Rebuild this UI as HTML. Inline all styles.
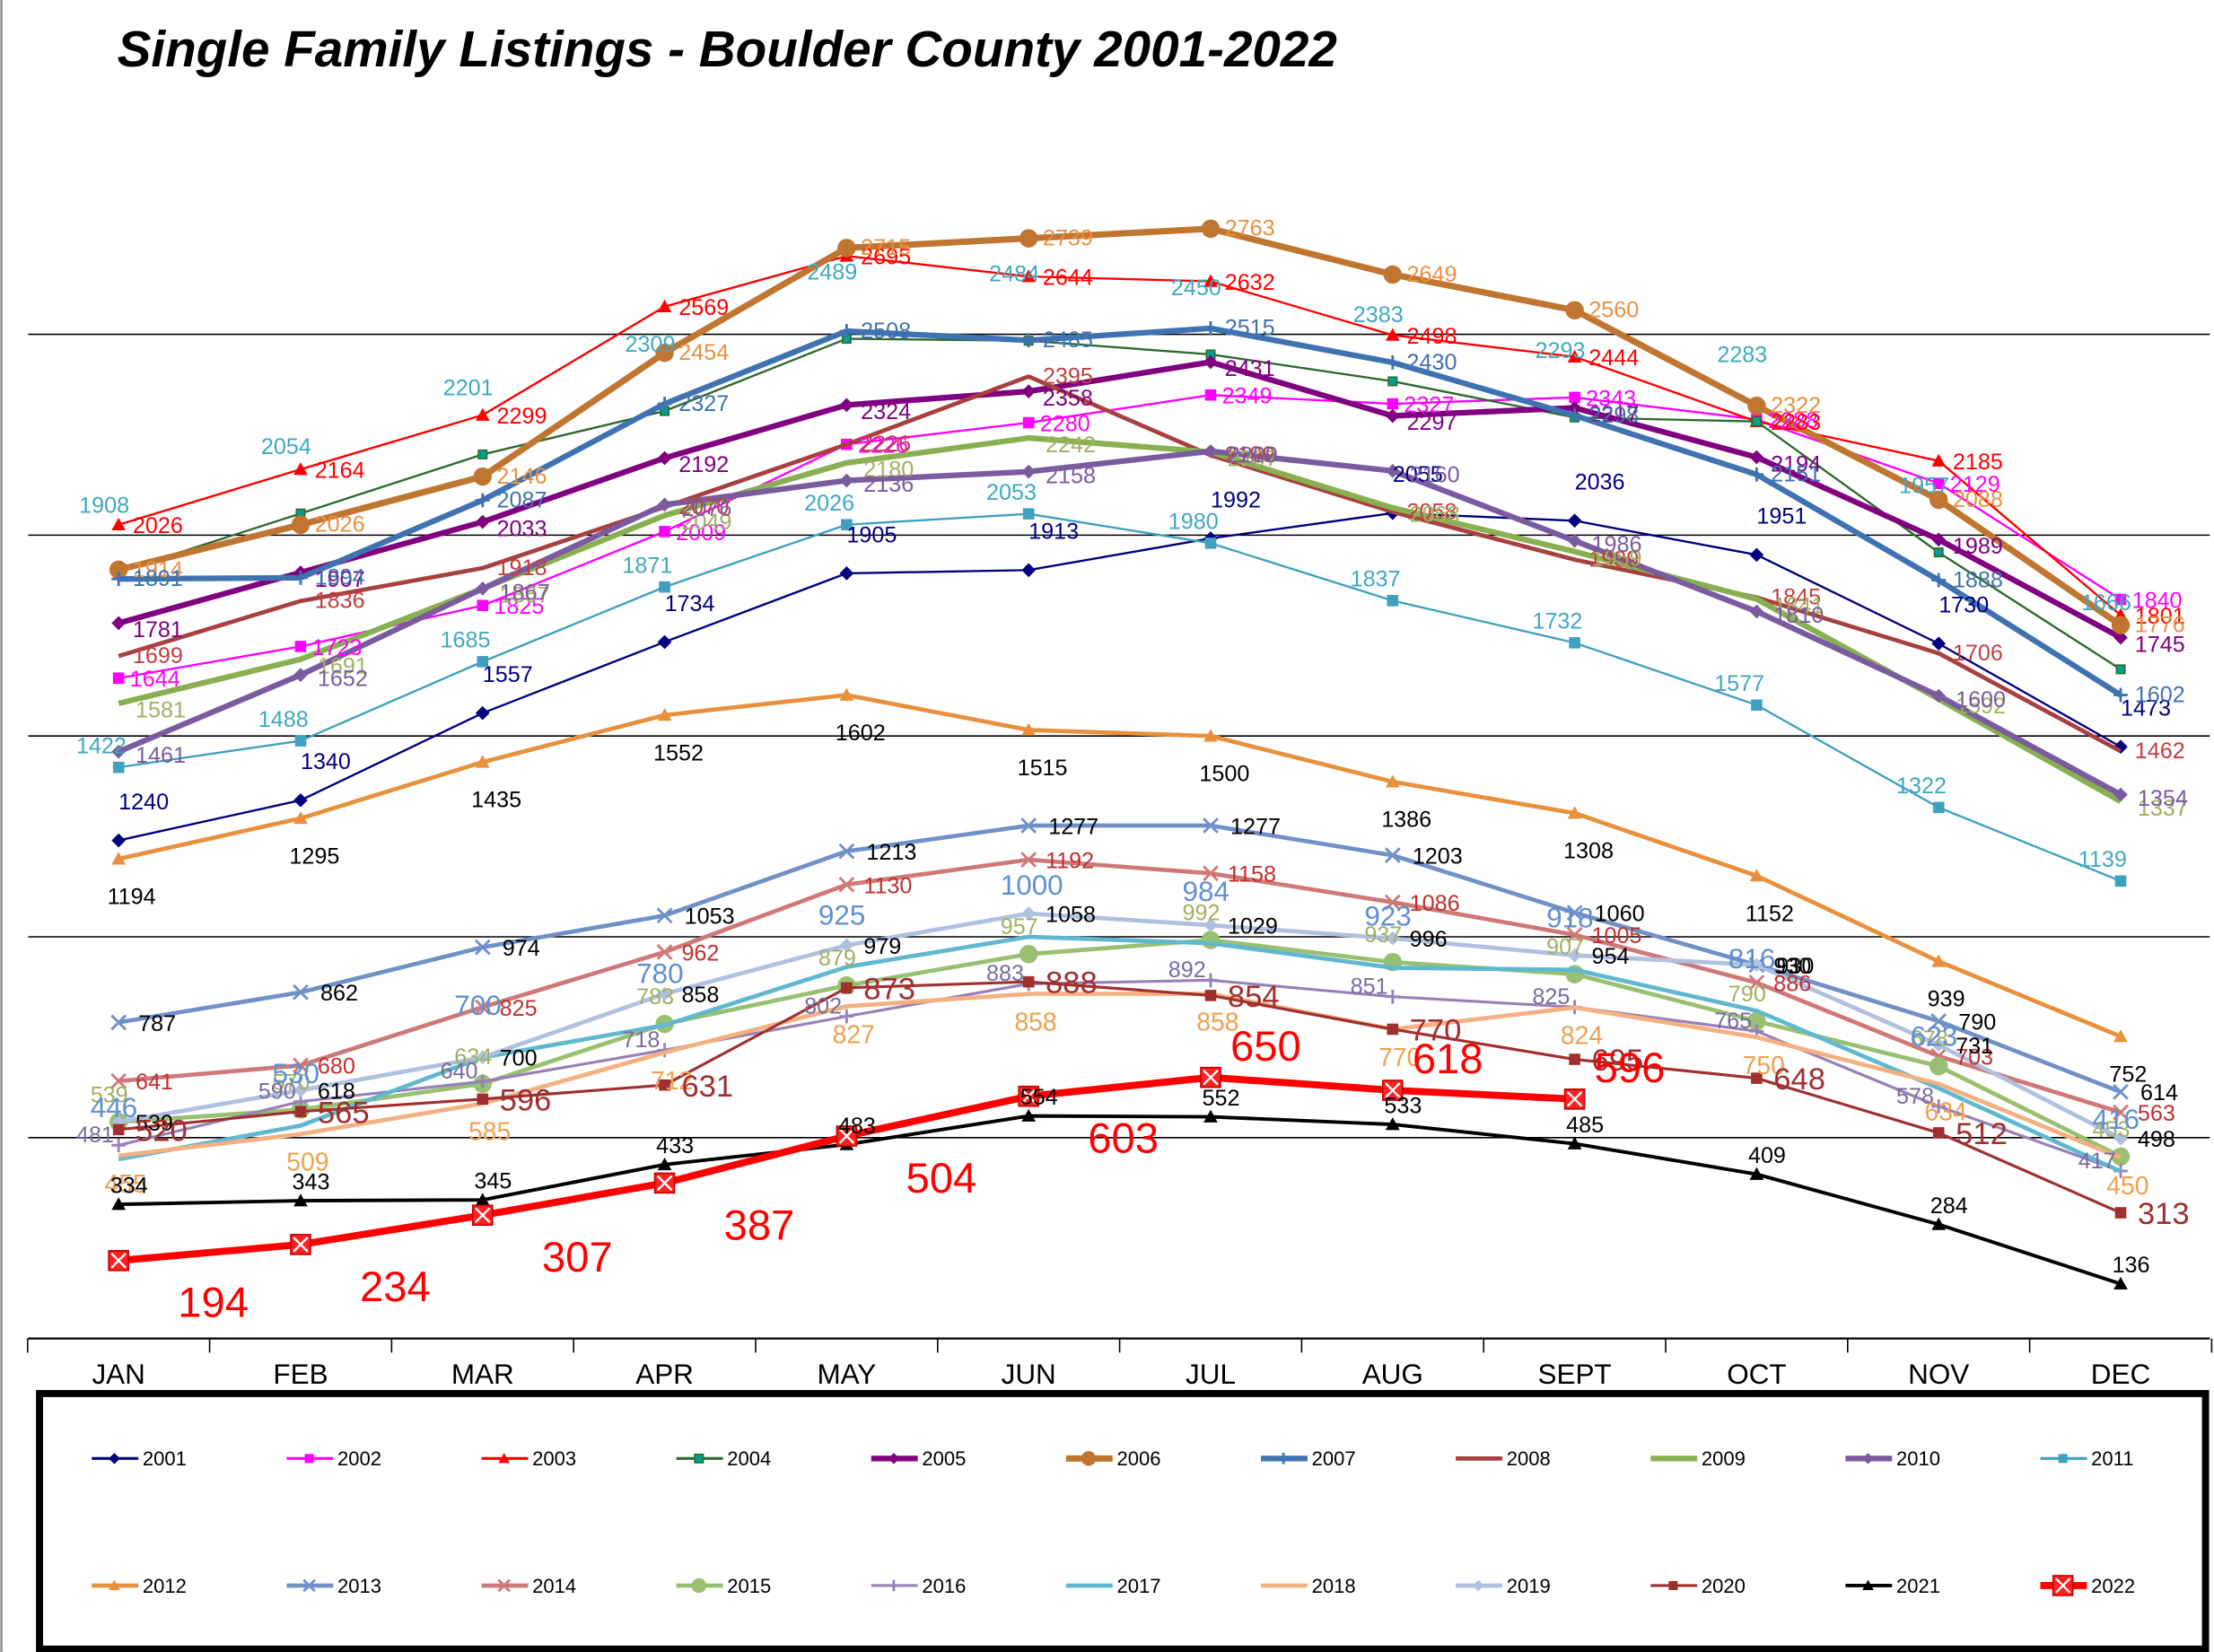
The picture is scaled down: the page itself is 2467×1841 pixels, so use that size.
<!DOCTYPE html>
<html><head><meta charset="utf-8">
<style>
html,body{margin:0;padding:0;background:#fff;}
svg{display:block;}
text{font-family:"Liberation Sans",Arial,sans-serif;}
</style></head>
<body>
<svg id="chart" width="2467" height="1841" viewBox="0 0 1568 1170" xmlns="http://www.w3.org/2000/svg">
<rect x="0" y="0" width="1568" height="1170" fill="#fff"/>
<line x1="1" y1="0" x2="1" y2="1170" stroke="#888" stroke-width="1.5"/>
<text x="83" y="47" font-size="36" font-weight="bold" font-style="italic" fill="#000">Single Family Listings - Boulder County 2001-2022</text>
<g id="grid"></g>
<g id="series"></g>
<g id="labels"></g>
<g id="axis"></g>
<rect x="28" y="987" width="1534" height="181" fill="none" stroke="#000" stroke-width="5"/>
<g id="legend"></g>
</svg>
<script>
const months = ["JAN","FEB","MAR","APR","MAY","JUN","JUL","AUG","SEPT","OCT","NOV","DEC"];
const years = ["2001","2002","2003","2004","2005","2006","2007","2008","2009","2010","2011","2012","2013","2014","2015","2016","2017","2018","2019","2020","2021","2022"];
const v2001 = [1240,1340,1557,1734,1905,1913,1992,2055,2036,1951,1730,1473];
const v2002 = [1644,1723,1825,2009,2226,2280,2349,2327,2343,2288,2129,1840];
const v2003 = [2026,2164,2299,2569,2695,2644,2632,2498,2444,2283,2185,1801];
const v2004 = [1908,2054,2201,2309,2489,2484,2450,2383,2293,2283,1957,1666];
const v2005 = [1781,1907,2033,2192,2324,2358,2431,2297,2317,2194,1989,1745];
const v2006 = [1914,2026,2146,2454,2715,2739,2763,2649,2560,2322,2088,1776];
const v2007 = [1891,1894,2087,2327,2508,2485,2515,2430,2298,2151,1888,1602];
const v2008 = [1699,1836,1918,2070,2226,2395,2199,2058,1939,1845,1706,1462];
const v2009 = [1581,1691,1867,2049,2180,2242,2207,2068,1959,1841,1592,1337];
const v2010 = [1461,1652,1867,2076,2136,2158,2209,2160,1986,1810,1600,1354];
const v2011 = [1422,1488,1685,1871,2026,2053,1980,1837,1732,1577,1322,1139];
const v2012 = [1194,1295,1435,1552,1602,1515,1500,1386,1308,1152,939,752];
const v2013 = [787,862,974,1053,1213,1277,1277,1203,1060,930,790,614];
const v2014 = [641,680,825,962,1130,1192,1158,1086,1005,886,703,563];
const v2015 = [539,570,634,783,879,957,992,937,907,790,678,453];
const v2016 = [481,590,640,718,802,883,892,851,825,765,578,417];
const v2017 = [446,530,700,780,925,1000,984,923,918,816,623,416];
const v2018 = [455,509,585,712,827,858,858,770,824,750,634,450];
const v2019 = [539,618,700,858,979,1058,1029,996,954,930,731,498];
const v2020 = [520,565,596,631,873,888,854,770,695,648,512,313];
const v2021 = [334,343,345,433,483,554,552,533,485,409,284,136];
const v2022 = [194,234,307,387,504,603,650,618,596];
const allValues = [v2001,v2002,v2003,v2004,v2005,v2006,v2007,v2008,v2009,v2010,v2011,v2012,v2013,v2014,v2015,v2016,v2017,v2018,v2019,v2020,v2021,v2022];
const gridTicks = [500,1000,1500,2000,2500];

const styles = [
 {c:"#000080",w:1.5,m:"diamond",lc:"#000080",fs:16,dx:0,dy:-22},
 {c:"#ff00ff",w:1.5,m:"square",lc:"#ff00ff",fs:16,dx:8,dy:6},
 {c:"#ff0000",w:1.5,m:"triangle",lc:"#ff0000",fs:16,dx:10,dy:6},
 {c:"#2f6a2f",w:1.5,m:"tsquare",lc:"#40a8c0",fs:16,dx:-28,dy:-42},
 {c:"#800080",w:4,m:"diamond",lc:"#800080",fs:16,dx:10,dy:10},
 {c:"#c07530",w:4.5,m:"circle",lc:"#e89040",fs:16,dx:10,dy:5},
 {c:"#3f72b0",w:4,m:"plus",lc:"#3f72b0",fs:16,dx:10,dy:5},
 {c:"#a84040",w:3,m:"none",lc:"#c04040",fs:16,dx:10,dy:5},
 {c:"#88b050",w:4,m:"none",lc:"#a0b060",fs:16,dx:12,dy:10},
 {c:"#7a5ba0",w:4,m:"diamond",lc:"#7a5ba0",fs:16,dx:12,dy:8},
 {c:"#40a0c0",w:1.5,m:"square",lc:"#40a8c0",fs:16,dx:-30,dy:-10},
 {c:"#e8903c",w:3,m:"triangle",lc:"#000",fs:16,dx:-8,dy:32},
 {c:"#7090c8",w:3,m:"x",lc:"#000",fs:16,dx:14,dy:6},
 {c:"#d07878",w:3,m:"x",lc:"#c03030",fs:16,dx:12,dy:6},
 {c:"#98c070",w:3,m:"circle",lc:"#a0b060",fs:16,dx:-20,dy:-14},
 {c:"#9880b8",w:2,m:"plus",lc:"#7a6aa0",fs:16,dx:-30,dy:-2},
 {c:"#60b8d0",w:3,m:"none",lc:"#6090d0",fs:20,dx:-20,dy:-30},
 {c:"#f4b080",w:3,m:"none",lc:"#f0a050",fs:18,dx:-10,dy:26},
 {c:"#b0c0e0",w:3,m:"diamond",lc:"#000",fs:16,dx:12,dy:6},
 {c:"#a03030",w:2,m:"square",lc:"#a03030",fs:22,dx:12,dy:8},
 {c:"#000000",w:2.5,m:"triangle",lc:"#000",fs:16,dx:-6,dy:-8},
 {c:"#ff0000",w:5,m:"boxx",lc:"#ff0000",fs:30,dx:42,dy:40}
];

const X0=84, XS=128.9, Y0=948, YK=0.2845;
function xs(i){return X0+i*XS;}
function ys(v){return Y0-v*YK;}
const NS="http://www.w3.org/2000/svg";
function mk(tag,attrs,parent){const e=document.createElementNS(NS,tag);for(const k in attrs)e.setAttribute(k,attrs[k]);parent.appendChild(e);return e;}

const grid=document.getElementById("grid");
gridTicks.forEach(t=>{
 const l=mk("line",{x1:20,x2:1565,y1:ys(t),y2:ys(t),stroke:"#000","stroke-width":1},grid);
 
 
});

const axis=document.getElementById("axis");
const al=mk("line",{x1:20,x2:1565,y1:948,y2:948,stroke:"#000","stroke-width":1.5},axis);


for(let i=0;i<=12;i++){
 const tx=X0-XS/2+i*XS;
 const t=mk("line",{x1:tx,x2:tx,y1:948,y2:958,stroke:"#000","stroke-width":1},axis);
 
 
}
months.forEach((m,i)=>{
 const t=mk("text",{x:xs(i),y:980,"font-size":20,"text-anchor":"middle",fill:"#000"},axis);
 t.textContent=m;
 
 
});

function marker(g,type,x,y,c,s){
 let e;
 if(type==="diamond") e=mk("path",{d:`M${x} ${y-s}L${x+s} ${y}L${x} ${y+s}L${x-s} ${y}Z`,fill:c},g);
 else if(type==="square") e=mk("rect",{x:x-s*0.8,y:y-s*0.8,width:s*1.6,height:s*1.6,fill:c},g);
 else if(type==="tsquare") e=mk("rect",{x:x-3,y:y-3,width:6,height:6,fill:"#00a090",stroke:"#2f6a2f","stroke-width":1},g);
 else if(type==="triangle") e=mk("path",{d:`M${x} ${y-s}L${x+s} ${y+s*0.8}L${x-s} ${y+s*0.8}Z`,fill:c},g);
 else if(type==="circle") e=mk("circle",{cx:x,cy:y,r:s*1.3,fill:c},g);
 else if(type==="plus") e=mk("path",{d:`M${x-s} ${y}H${x+s}M${x} ${y-s}V${y+s}`,stroke:c,"stroke-width":1.8,fill:"none"},g);
 else if(type==="x") e=mk("path",{d:`M${x-s} ${y-s}L${x+s} ${y+s}M${x+s} ${y-s}L${x-s} ${y+s}`,stroke:c,"stroke-width":1.8,fill:"none"},g);
 else if(type==="boxx"){e=mk("rect",{x:x-7,y:y-7,width:14,height:14,fill:"#ff2020",stroke:"#c00000","stroke-width":1},g);
   mk("path",{d:`M${x-5} ${y-5}L${x+5} ${y+5}M${x+5} ${y-5}L${x-5} ${y+5}`,stroke:"#fff","stroke-width":1.5},g);}
 if(e){}
}

const sg=document.getElementById("series"), lg=document.getElementById("labels");
allValues.forEach((vals,si)=>{
 const st=styles[si];
 const g=mk("g",{},sg);
 
 
 const pts=vals.map((v,i)=>xs(i)+","+ys(v)).join(" ");
 const pl=mk("polyline",{points:pts,fill:"none",stroke:st.c,"stroke-width":st.w,"stroke-linejoin":"round"},g);
 
 
 vals.forEach((v,i)=>{
  marker(g,st.m,xs(i),ys(v),st.c,5);
  let dx=st.dx, dy=st.dy;
  if(si===21 && i>=6){dx=14; dy=-12;}
  const t=mk("text",{x:xs(i)+dx,y:ys(v)+dy,"font-size":st.fs,fill:st.lc},lg);
  t.textContent=v;
  
  
 });
});

const leg=document.getElementById("legend");
years.forEach((yr,i)=>{
 const st=styles[i];
 const row=i<11?0:1, col=i<11?i:i-11;
 const lx=65+col*138, ly=row?1123:1033;
 const g=mk("g",{},leg);
 
 
 mk("line",{x1:lx,x2:lx+33,y1:ly,y2:ly,stroke:st.c,"stroke-width":Math.max(st.w,2)},g);
 marker(g,st.m,lx+16,ly,st.c,4);
 const t=mk("text",{x:lx+36,y:ly+5,"font-size":14,fill:"#000"},g);
 t.textContent=yr;
});
</script>
</body></html>
